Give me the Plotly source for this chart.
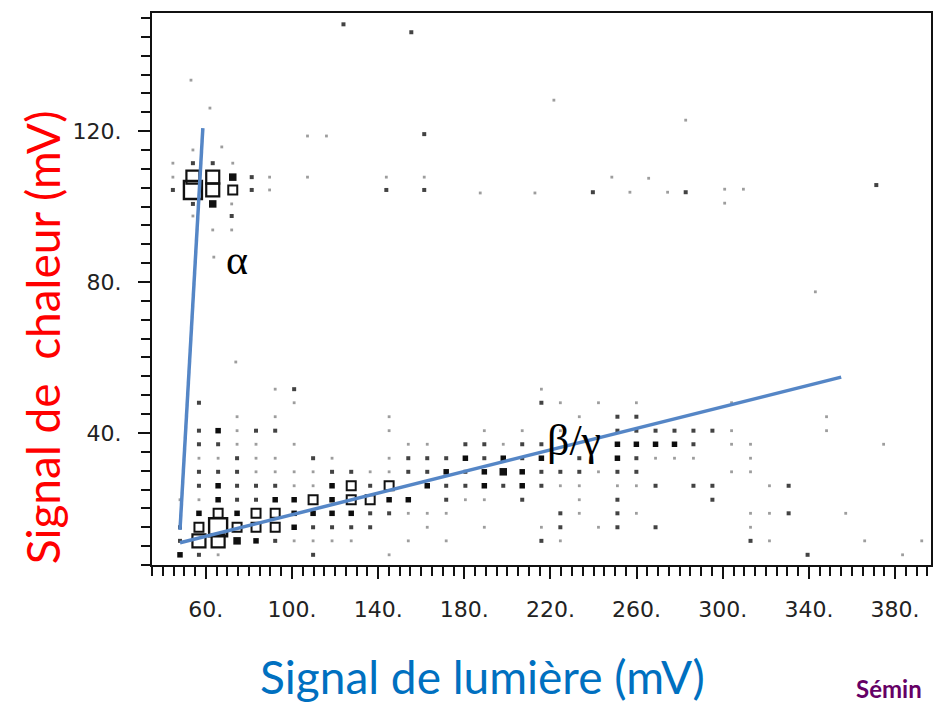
import plotly.graph_objects as go

# Histogram bin centres (light signal, mV) shared by the low-energy band
x_bins = [48.0, 56.8, 65.7, 74.5, 83.3, 92.2, 101.0, 109.8, 118.6, 127.5,
          136.3, 145.1, 154.0, 162.8, 171.6, 180.5, 189.3, 198.1, 206.9, 215.8,
          224.6, 233.4, 242.3, 251.1, 259.9, 268.8, 277.6, 286.4, 295.2, 304.1,
          312.9, 321.7, 330.6, 339.4, 348.2, 357.1, 365.9, 374.7, 383.5, 392.4]

# Heat-signal bin centres (mV) of the low band
y_rows = [7.7, 11.4, 15.0, 18.7, 22.3, 26.0, 29.7, 33.3, 37.0, 40.6, 44.3, 48.0, 51.6]

# Occupancy level per bin, row by row: {column index: level}
# 1 faint, 2 small dot, 3 bold dot, 4 filled box, 5/6/7 open boxes of growing size
low_band = [
    {0: 3, 1: 2, 2: 1, 7: 2, 11: 1, 33: 2, 38: 1},
    {0: 2, 1: 6, 2: 6, 3: 4, 4: 3, 5: 2, 6: 1, 7: 1, 8: 1, 9: 1, 12: 1, 14: 1,
     19: 2, 20: 1, 30: 2, 31: 1, 36: 1, 39: 1},
    {0: 2, 1: 5, 2: 7, 3: 5, 4: 5, 5: 5, 6: 3, 7: 2, 8: 2, 9: 2, 10: 2, 13: 1, 16: 1,
     19: 1, 20: 2, 22: 1, 23: 2, 25: 2, 30: 1},
    {1: 3, 2: 5, 3: 3, 4: 5, 5: 5, 6: 3, 7: 3, 8: 3, 9: 3, 10: 2, 11: 2, 12: 1, 13: 1,
     14: 1, 20: 2, 21: 1, 23: 2, 24: 1, 30: 1, 31: 1, 32: 2, 35: 1},
    {0: 1, 1: 1, 2: 3, 3: 2, 4: 2, 5: 3, 6: 3, 7: 5, 8: 3, 9: 5, 10: 5, 11: 3, 12: 3,
     14: 2, 15: 1, 16: 1, 18: 2, 21: 1, 23: 2, 28: 2},
    {1: 2, 2: 3, 3: 2, 4: 2, 5: 2, 6: 1, 7: 1, 8: 3, 9: 5, 10: 2, 11: 5, 13: 3, 14: 2,
     15: 2, 16: 3, 17: 2, 18: 3, 19: 2, 20: 1, 21: 1, 23: 1, 24: 1, 25: 2, 27: 2,
     28: 2, 31: 1, 32: 2},
    {1: 2, 2: 2, 3: 2, 4: 1, 5: 1, 6: 1, 7: 1, 8: 2, 9: 2, 10: 1, 11: 1, 12: 2, 13: 2,
     14: 3, 15: 2, 16: 3, 17: 4, 18: 3, 19: 2, 20: 2, 21: 2, 22: 1, 23: 2, 24: 2,
     29: 1, 30: 1},
    {1: 1, 2: 1, 3: 2, 4: 1, 5: 1, 7: 2, 8: 1, 11: 1, 12: 2, 13: 2, 14: 2, 15: 3,
     16: 2, 17: 3, 18: 2, 19: 3, 21: 2, 23: 3, 24: 2, 25: 1, 26: 1, 27: 1, 30: 1},
    {1: 2, 2: 2, 3: 1, 4: 1, 6: 1, 12: 1, 13: 1, 15: 2, 16: 2, 17: 1, 18: 2, 19: 2,
     23: 3, 24: 3, 25: 3, 26: 3, 27: 2, 29: 1, 30: 1, 37: 1},
    {1: 2, 2: 3, 3: 1, 4: 2, 5: 2, 11: 1, 16: 1, 18: 1, 20: 1, 23: 2, 24: 2, 25: 2,
     26: 2, 27: 2, 28: 2, 29: 1, 34: 1},
    {3: 1, 5: 1, 11: 1, 21: 1, 23: 2, 24: 2, 34: 1},
    {1: 2, 6: 1, 19: 2, 20: 1, 22: 1, 24: 1, 29: 1},
    {5: 1, 6: 2, 19: 1},
]

# Sparse events above the band, including the alpha group
up_x = [73.9, 63.7, 63.2, 72.0, 54.0, 72.0, 54.0, 63.2, 72.0,
        44.7, 54.0, 63.2, 72.5, 81.3, 89.6, 143.8, 161.4,
        44.7, 54.0, 63.2, 72.5, 81.3, 89.6, 107.2, 143.8, 161.4,
        44.7, 54.0, 63.2, 72.5, 54.0, 67.4, 107.2, 116.0, 161.4,
        61.9, 53.1, 123.9, 155.4, 221.6, 282.8, 187.4, 212.8, 239.7,
        248.5, 256.9, 265.6, 274.4, 282.8, 300.9, 309.6, 300.9, 371.3, 343.0]
up_y = [58.8, 86.6, 93.8, 93.8, 97.5, 97.5, 100.7, 100.7, 100.7,
        104.4, 104.4, 104.4, 104.4, 104.4, 104.4, 104.4, 104.4,
        107.8, 107.8, 107.8, 107.8, 107.8, 107.8, 107.8, 107.8, 107.8,
        111.5, 111.5, 111.5, 111.5, 115.0, 115.8, 118.7, 118.7, 119.2,
        126.1, 133.5, 148.3, 146.2, 128.2, 122.9, 103.6, 103.6, 103.8,
        107.8, 103.8, 107.5, 103.8, 103.8, 104.6, 104.6, 100.9, 105.7, 77.4]
up_level = [1, 1, 1, 1, 1, 2, 2, 4, 1,
            2, 7, 6, 5, 2, 1, 2, 2,
            1, 6, 6, 4, 2, 1, 1, 1, 1,
            1, 2, 2, 1, 1, 1, 1, 1, 2,
            1, 1, 2, 2, 1, 1, 1, 1, 2,
            1, 1, 1, 1, 2, 1, 1, 1, 2, 1]

# Guide lines drawn over the two populations
alpha_x = [48.0, 58.6]
alpha_y = [14.3, 120.8]
beta_x = [48.0, 355.0]
beta_y = [10.9, 54.8]

x_ticks = [60, 100, 140, 180, 220, 260, 300, 340, 380]
x_tick_text = ["60.", "100.", "140.", "180.", "220.", "260.", "300.", "340.", "380."]
y_ticks = [40, 80, 120]
y_tick_text = ["40.", "80.", "120."]

# Gather every event and its level
pts_x, pts_y, pts_l = [], [], []
for yv, row in zip(y_rows, low_band):
    for col, lev in row.items():
        pts_x.append(x_bins[col])
        pts_y.append(yv)
        pts_l.append(lev)
pts_x += up_x
pts_y += up_y
pts_l += up_level

styles = {
    1: dict(symbol="square", size=2.8, color="rgba(60,60,60,0.5)", lw=0),
    2: dict(symbol="square", size=4, color="rgba(20,20,20,0.8)", lw=0),
    3: dict(symbol="square", size=5.5, color="rgba(0,0,0,0.95)", lw=0),
    4: dict(symbol="square", size=7.5, color="#111111", lw=0),
    5: dict(symbol="square-open", size=9, color="#111111", lw=2.0),
    6: dict(symbol="square-open", size=13, color="#111111", lw=2.2),
    7: dict(symbol="square-open", size=18, color="#111111", lw=2.4),
}

fig = go.Figure()
for lev, st in styles.items():
    xs = [x for x, l in zip(pts_x, pts_l) if l == lev]
    ys = [y for y, l in zip(pts_y, pts_l) if l == lev]
    fig.add_trace(go.Scatter(
        x=xs, y=ys, mode="markers", showlegend=False, hoverinfo="skip",
        marker=dict(symbol=st["symbol"], size=st["size"], color=st["color"],
                    line=dict(width=st["lw"], color=st["color"])),
    ))

line_color = "#5586C6"
fig.add_trace(go.Scatter(x=alpha_x, y=alpha_y, mode="lines", showlegend=False,
                         line=dict(color=line_color, width=3.5)))
fig.add_trace(go.Scatter(x=beta_x, y=beta_y, mode="lines", showlegend=False,
                         line=dict(color=line_color, width=3.5)))

fig.add_annotation(x=74.4, y=85.8, text="α", showarrow=False,
                   font=dict(family="Liberation Serif", size=42, color="black"))
fig.add_annotation(x=230.9, y=38.1, text="β/γ", showarrow=False,
                   font=dict(family="Liberation Serif", size=44, color="black"))

fig.add_annotation(xref="paper", yref="paper", x=-0.1408, y=0.413,
                   xanchor="center", yanchor="middle",
                   text="Signal de  chaleur (mV)", textangle=-90, showarrow=False,
                   font=dict(family="Lato", size=46, color="#FF0000"))
fig.add_annotation(xref="paper", yref="paper", x=0.4238, y=-0.2024,
                   xanchor="center", yanchor="middle", borderpad=0,
                   text="Signal de lumière (mV)", showarrow=False,
                   font=dict(family="Lato", size=46, color="#0070C0"))
fig.add_annotation(xref="paper", yref="paper", x=0.9027, y=-0.2246,
                   xanchor="left", yanchor="middle", borderpad=0,
                   text="<b>Sémin</b>", showarrow=False,
                   font=dict(family="Lato", size=24, color="#660066"))

tick_font = dict(family="DejaVu Sans", size=22, color="#222222")
fig.update_xaxes(range=[35, 396.7], showgrid=False, zeroline=False,
                 showline=True, linecolor="#111111", linewidth=2, mirror=True,
                 ticks="outside", ticklen=12, tickwidth=2, tickcolor="#111111",
                 tickvals=x_ticks, ticktext=x_tick_text, tickfont=tick_font,
                 ticklabelstandoff=12,
                 minor=dict(tick0=0, dtick=5, ticks="outside", ticklen=9,
                            tickwidth=1.5, tickcolor="#111111"))
fig.update_yaxes(range=[5.0, 151.3], showgrid=False, zeroline=False,
                 showline=True, linecolor="#111111", linewidth=2, mirror=True,
                 ticks="outside", ticklen=12, tickwidth=2, tickcolor="#111111",
                 tickvals=y_ticks, ticktext=y_tick_text, tickfont=tick_font,
                 ticklabelstandoff=12,
                 minor=dict(tick0=0, dtick=5, ticks="outside", ticklen=9,
                            tickwidth=1.5, tickcolor="#111111"))

fig.update_layout(width=935, height=706, plot_bgcolor="white", paper_bgcolor="white",
                  margin=dict(l=152, r=2, t=13, b=141))

fig.write_html("out.html")
